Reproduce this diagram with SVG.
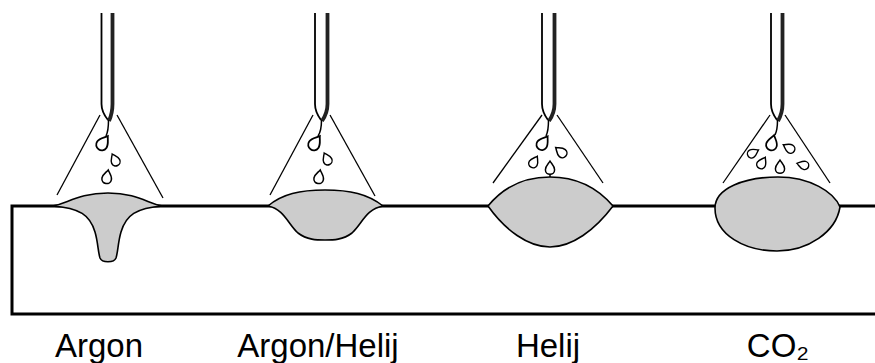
<svg xmlns="http://www.w3.org/2000/svg" xmlns:xlink="http://www.w3.org/1999/xlink" width="875" height="363" viewBox="0 0 875 363">
<style>
.frame{fill:none;stroke:#000;stroke-width:3}
.pool{fill:#cccccc;stroke:#000;stroke-width:1.6;stroke-linejoin:round}
.cone{stroke:#000;stroke-width:1.3;fill:none}
.wl{stroke:#000;stroke-width:1.8;fill:none}
.wr{stroke:#222;stroke-width:3.8;fill:none}
.tail{stroke:#000;stroke-width:1.5;fill:none}
.drop{fill:#fff;stroke:#000;stroke-width:1.3}
.label{font-family:"Liberation Sans",Arial,sans-serif;font-size:33px;text-anchor:middle;fill:#000}
</style>
<defs>
<path id="drop" class="drop" d="M0,-6 C1.5,-3.5 4,-1.5 4,1.5 C4,4 2,5.5 0,5.5 C-2,5.5 -4,4 -4,1.5 C-4,-1.5 -1.5,-3.5 0,-6 Z"/>
</defs>
<rect width="875" height="363" fill="#fff"/>
<g id="workpiece">
<path class="frame" d="M875,206 H12 V314 H875"/>
</g>
<g id="argon">
<path class="pool" d="M52,206 C65,205 78,193 108,193 C138,193 150,205 163,206 C136,208 126,215 121,232 C118,242 118,252 116,258 C114,263 102,263 100,258 C98,252 98,242 95,232 C90,215 80,208 52,206 Z"/>
<line class="cone" x1="100" y1="115" x2="57" y2="195"/>
<line class="cone" x1="117" y1="115" x2="163" y2="198"/>
<path class="wl" d="M101.5,13 V104 Q101.5,112 108,120"/>
<path class="wr" d="M112.5,13 V104 Q112.5,113 109,121"/>
<path class="tail" d="M108.5,120 Q108.5,131 106,136"/>
<use xlink:href="#drop" transform="translate(103,143) rotate(35) scale(1.4)"/>
<use xlink:href="#drop" transform="translate(115,160) rotate(-25) scale(1.1)"/>
<use xlink:href="#drop" transform="translate(107,177) rotate(10) scale(1.2)"/>
<text class="label" x="99" y="357">Argon</text>
</g>
<g id="argon-helij">
<path class="pool" d="M268,206 C282,194 300,190 325,190 C350,190 368,194 383,206 C366,209 362,224 352,233 C343,240 333,240 325,240 C317,240 307,240 298,233 C288,224 284,209 268,206 Z"/>
<line class="cone" x1="313" y1="115" x2="270" y2="195"/>
<line class="cone" x1="330" y1="115" x2="375" y2="196"/>
<path class="wl" d="M315,13 V104 Q315,112 321,120"/>
<path class="wr" d="M327.5,13 V104 Q327.5,113 322,121"/>
<path class="tail" d="M321.5,120 Q321.5,131 318,136"/>
<use xlink:href="#drop" transform="translate(315,143) rotate(35) scale(1.4)"/>
<use xlink:href="#drop" transform="translate(327,159) rotate(-25) scale(1.1)"/>
<use xlink:href="#drop" transform="translate(319,177) rotate(10) scale(1.2)"/>
<text class="label" x="318" y="357">Argon/Helij</text>
</g>
<g id="helij">
<path class="pool" d="M488,206 C505,185 528,177 550,177 C572,177 595,185 613,206 C595,230 572,247 550,247 C528,247 505,230 488,206 Z"/>
<line class="cone" x1="542" y1="115" x2="493" y2="183"/>
<line class="cone" x1="557" y1="115" x2="603" y2="183"/>
<path class="wl" d="M542,13 V104 Q542,112 548,120"/>
<path class="wr" d="M554.5,13 V104 Q554.5,113 549,121"/>
<path class="tail" d="M548.5,120 Q548.5,131 546,136"/>
<use xlink:href="#drop" transform="translate(543,143) rotate(35) scale(1.35)"/>
<use xlink:href="#drop" transform="translate(561,152) rotate(-50) scale(1.15)"/>
<use xlink:href="#drop" transform="translate(534,162) rotate(30) scale(1.1)"/>
<use xlink:href="#drop" transform="translate(550,168) rotate(0) scale(1.15)"/>
<line class="tail" x1="550" y1="174" x2="550" y2="177"/>
<text class="label" x="548" y="357">Helij</text>
</g>
<g id="co2">
<path class="pool" d="M715,208 C715,188 745,177 778,177 C810,177 834,192 840,207 C836,232 808,251 777,251 C745,251 715,235 715,208 Z"/>
<line class="cone" x1="770" y1="115" x2="723" y2="183"/>
<line class="cone" x1="785" y1="115" x2="830" y2="183"/>
<path class="wl" d="M771,13 V104 Q771,112 777,120"/>
<path class="wr" d="M782.5,13 V104 Q782.5,113 778,121"/>
<path class="tail" d="M777.5,120 Q777.5,130 775,135"/>
<use xlink:href="#drop" transform="translate(772,143) rotate(15) scale(1.35)"/>
<use xlink:href="#drop" transform="translate(789,148) rotate(-60) scale(1.1)"/>
<use xlink:href="#drop" transform="translate(753,153) rotate(60) scale(1.05)"/>
<use xlink:href="#drop" transform="translate(762,163) rotate(30) scale(1.1)"/>
<use xlink:href="#drop" transform="translate(780,167) rotate(0) scale(1.15)"/>
<use xlink:href="#drop" transform="translate(803,165) rotate(-75) scale(1.05)"/>
<text class="label" x="778" y="357">CO₂</text>
</g>
</svg>
